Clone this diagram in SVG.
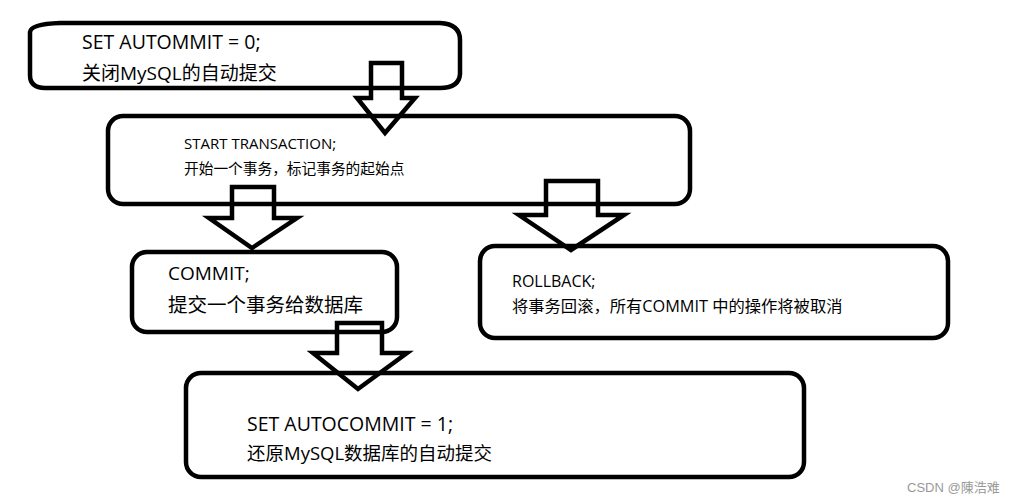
<svg xmlns="http://www.w3.org/2000/svg" width="1022" height="503" viewBox="0 0 1022 503">
<style>
.box{fill:none;stroke:#000;stroke-width:4.5}
.arrow{fill:none;stroke:#000;stroke-width:4.5;stroke-linejoin:miter;stroke-miterlimit:10}
text{font-family:"Open Sans","Noto Sans CJK SC",sans-serif;fill:#000;font-weight:400}
.wm{font-family:"Liberation Sans","Noto Sans CJK SC",sans-serif;fill:#999;font-size:13px}
</style>
<rect width="1022" height="503" fill="#fff"/>
<g id="node-autocommit-off">
<path class="box" d="M30,32 Q31,24 60,23 L440,23 Q460,24 460,40 L460,74 Q459,88 440,88 L45,88 Q30,88 30,75 Z"/>
<text x="82" y="49" font-size="19.5">SET AUTOMMIT = 0;</text>
<text x="82" y="80" font-size="19">关闭MySQL的自动提交</text>
</g>
<g id="node-start">
<rect class="box" x="108" y="116" width="582" height="88" rx="15"/>
<text x="184" y="149" font-size="15">START TRANSACTION;</text>
<text x="184" y="174" font-size="14.7">开始一个事务，标记事务的起始点</text>
</g>
<g id="node-commit">
<rect class="box" x="132" y="252" width="265" height="80" rx="15"/>
<text x="168" y="280" font-size="19">COMMIT;</text>
<text x="168" y="312" font-size="19.5">提交一个事务给数据库</text>
</g>
<g id="node-rollback">
<rect class="box" x="480" y="246" width="468" height="92" rx="15"/>
<text x="512" y="287" font-size="16">ROLLBACK;</text>
<text x="512" y="312" font-size="16.3">将事务回滚，所有COMMIT 中的操作将被取消</text>
</g>
<g id="node-autocommit-on">
<rect class="box" x="186" y="373" width="618" height="104" rx="15"/>
<text x="247" y="431" font-size="19.5">SET AUTOCOMMIT = 1;</text>
<text x="247" y="460" font-size="18.5">还原MySQL数据库的自动提交</text>
</g>
<g id="connectors">
<polygon class="arrow" points="371,63 402,63 402,98 415,98 385,133 357,98 371,98"/>
<polygon class="arrow" points="232,187 274,187 274,218 297,218 252,248 209,218 232,218"/>
<polygon class="arrow" points="546,181 598,181 598,215 624,215 571,250 519,215 546,215"/>
<polygon class="arrow" points="337,323 382,323 382,353 407,353 358,389 313,353 337,353"/>
</g>
<text class="wm" x="907" y="492">CSDN @陳浩难</text>
</svg>
